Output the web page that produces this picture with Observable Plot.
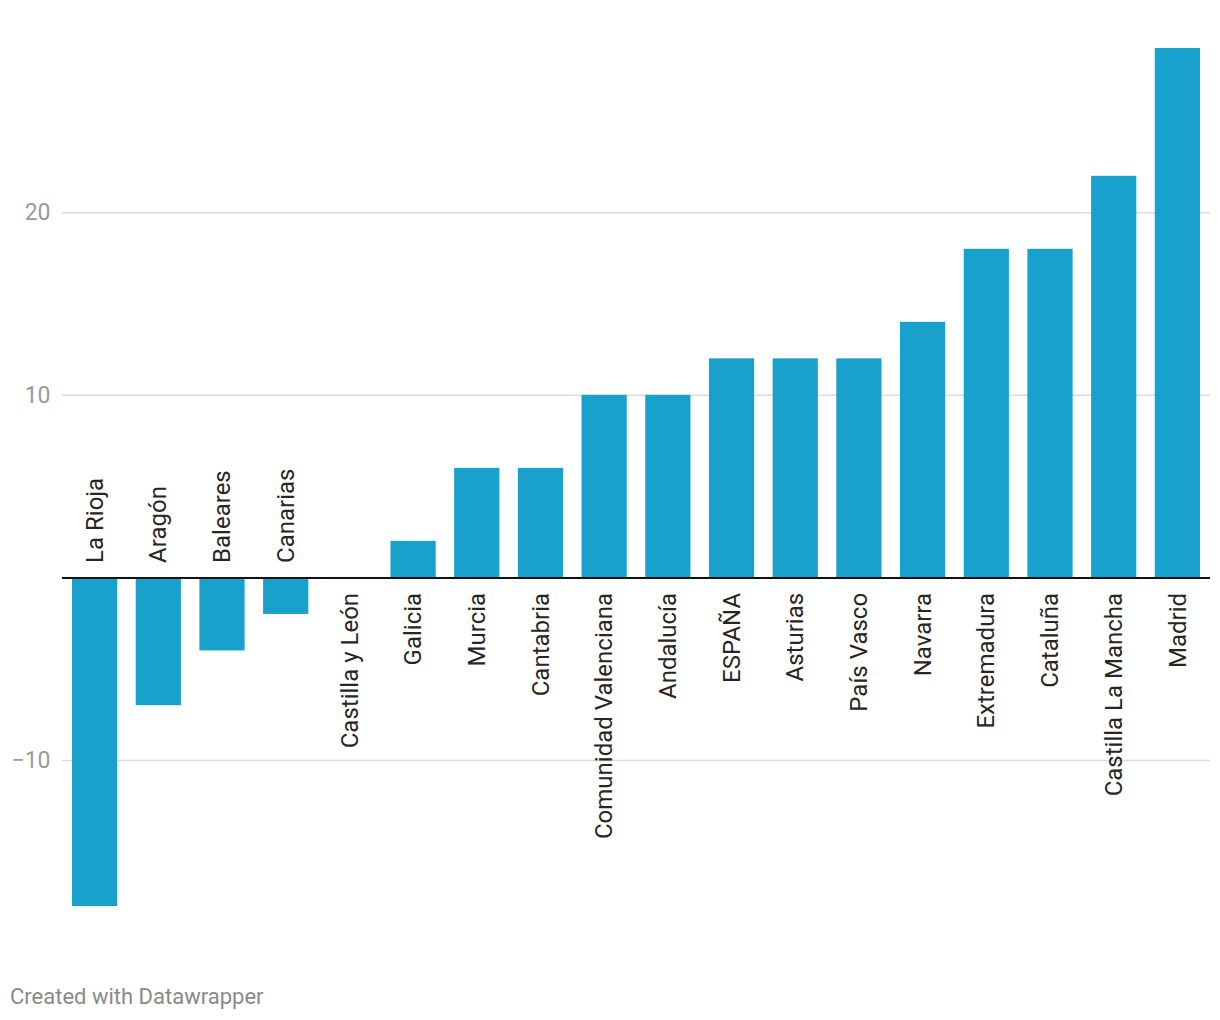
<!DOCTYPE html>
<html>
<head>
<meta charset="utf-8">
<script src="https://cdn.jsdelivr.net/npm/d3@7"></script>
<script src="https://cdn.jsdelivr.net/npm/@observablehq/plot@0.6"></script>
<style>
  html, body { margin: 0; padding: 0; background: #fff; }
  #wrap { position: relative; width: 1220px; height: 1020px; font-family: Roboto, sans-serif; }
  #chart { position: absolute; left: 0; top: 0; }
  #footer { position: absolute; left: 10px; top: 983px; font-size: 22px; line-height: 28px; color: #8a8a8a; font-family: Roboto, sans-serif; }
</style>
</head>
<body>
<div id="wrap">
  <div id="chart"></div>
  <div id="footer">Created with Datawrapper</div>
</div>
<script>
const regions = ["La Rioja", "Aragón", "Baleares", "Canarias", "Castilla y León", "Galicia", "Murcia", "Cantabria", "Comunidad Valenciana", "Andalucía", "ESPAÑA", "Asturias", "País Vasco", "Navarra", "Extremadura", "Cataluña", "Castilla La Mancha", "Madrid"];
const values = [-18, -7, -4, -2, 0, 2, 6, 6, 10, 10, 12, 12, 12, 14, 18, 18, 22, 29];
const yTicks = [-10, 10, 20];

const data = regions.map((r, i) => ({region: r, value: values[i]}));

const chart = Plot.plot({
  width: 1220,
  height: 960,
  marginTop: 48,
  marginBottom: 54,
  marginLeft: 62,
  marginRight: 10,
  style: {fontFamily: "Roboto, sans-serif", background: "#fff"},
  x: {domain: regions, paddingInner: 0.29, paddingOuter: 0, align: 0.5, round: false, insetLeft: 10, insetRight: 10, axis: null},
  y: {domain: [-18, 29], axis: null},
  marks: [
    Plot.gridY(yTicks, {stroke: "#dcdcdc", strokeOpacity: 1, strokeWidth: 1.5}),
    Plot.axisY(yTicks, {label: null, tickSize: 0, tickPadding: 12, fontSize: 23, fill: "#9a9a9a", tickFormat: d => d < 0 ? "\u2212" + Math.abs(d) : String(d)}),
    Plot.barY(data, {x: "region", y: "value", fill: "#18a1cd"}),
    Plot.ruleY([0], {stroke: "#111", strokeWidth: 2}),
    Plot.text(data.filter(d => d.value < 0), {x: "region", y: () => 0, text: "region", rotate: -90, textAnchor: "start", dy: -15, fontSize: 24, fill: "#262626"}),
    Plot.text(data.filter(d => d.value >= 0), {x: "region", y: () => 0, text: "region", rotate: -90, textAnchor: "end", dy: 15, fontSize: 24, fill: "#262626"})
  ]
});
document.getElementById("chart").appendChild(chart);
</script>
</body>
</html>
